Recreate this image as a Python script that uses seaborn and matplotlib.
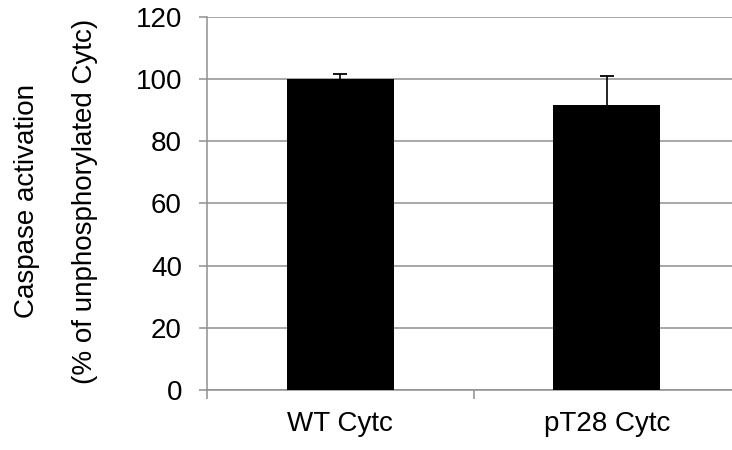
import matplotlib
matplotlib.use("Agg")
import matplotlib.pyplot as plt
import seaborn as sns
import pandas as pd

# Caspase activation relative to unphosphorylated cytochrome c
categories = ["WT Cytc", "pT28 Cytc"]
activation = [100.0, 91.6]
errors_up = [1.6, 9.4]
y_ticks = [0, 20, 40, 60, 80, 100, 120]

sns.set_theme(style="white")
plt.rcParams["font.family"] = ["Liberation Sans", "DejaVu Sans"]

grey = "#8f8f8f"
fs = 20
df = pd.DataFrame({"sample": categories, "activation": activation})

fig = plt.figure(figsize=(7.32, 4.5), dpi=100)
ax = fig.add_axes([207 / 732, 1 - 390 / 450, 533 / 732, (390 - 16.7) / 450])

sns.barplot(data=df, x="sample", y="activation", color="black", width=0.4,
            errorbar=None, ax=ax, zorder=3, saturation=1, edgecolor="none")

# upper-only error bars: stem from bar top plus a cap at the tip
xs = list(range(len(categories)))
tops = [v + e for v, e in zip(activation, errors_up)]
ax.vlines(xs, activation, tops, color="black", linewidth=1.2, zorder=4)
ax.plot(xs, tops, linestyle="none", marker="_", markersize=10,
        markeredgewidth=1.3, color="black", zorder=4)

ax.set_xlim(-0.5, len(categories) - 0.5)
ax.set_ylim(0, 120)
ax.set_yticks(y_ticks)
ax.yaxis.grid(True, color=grey, linewidth=1.1)
ax.set_axisbelow(True)

for side in ("top", "right"):
    ax.spines[side].set_visible(False)
for side in ("left", "bottom"):
    ax.spines[side].set_color(grey)
    ax.spines[side].set_linewidth(1.1)

ax.set_xticks(xs)
ax.set_xticklabels(categories)
ax.set_xticks([i - 0.5 for i in range(len(categories) + 1)], minor=True)
ax.tick_params(axis="x", which="major", length=0, pad=15, labelsize=fs,
               labelcolor="black")
ax.tick_params(axis="x", which="minor", length=6.5, width=1.1, color=grey,
               direction="out", bottom=True)
ax.tick_params(axis="y", length=6, width=1.1, color=grey, direction="out",
               left=True, pad=12, labelsize=fs, labelcolor="black")

ax.set_xlabel("")
ax.set_ylabel("")

mid_y = 1 - 201 / 450
fig.text(27 / 732, mid_y, "Caspase activation", rotation=90, ha="center",
         va="center", fontsize=fs, color="black")
fig.text(85 / 732, mid_y, "(% of unphosphorylated Cytc)", rotation=90,
         ha="center", va="center", fontsize=fs, color="black")

fig.savefig("out.png", dpi=100, facecolor="white")
